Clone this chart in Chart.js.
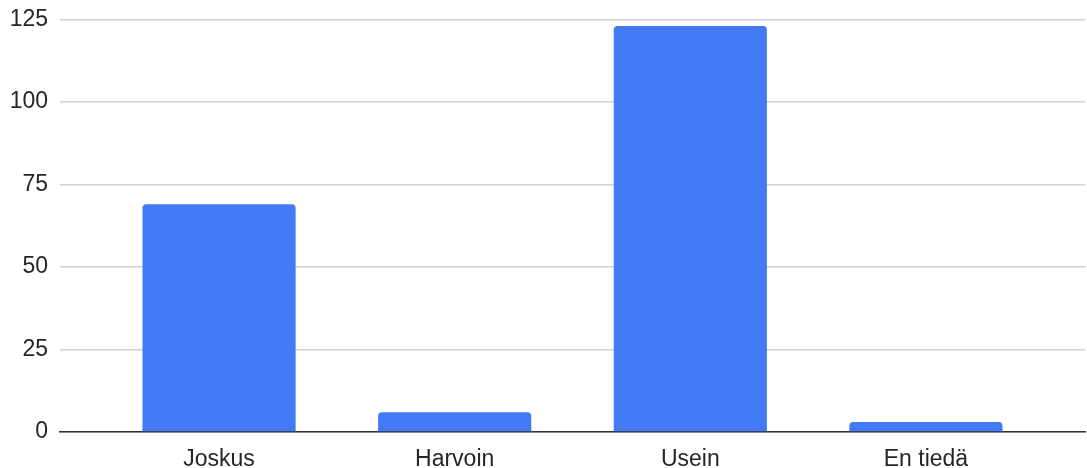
<!DOCTYPE html>
<html lang="fi">
<head>
  <meta charset="UTF-8" />
  <title>Vastaukset</title>
  <script src="https://cdn.jsdelivr.net/npm/chart.js"></script>
  <style>
    html, body { margin: 0; padding: 0; background: #fff; }
    #wrap { width: 1087px; height: 468px; position: relative; }
  </style>
</head>
<body>
  <div id="wrap"><canvas id="chart"></canvas></div>

  <script>
    const categories = ["Joskus", "Harvoin", "Usein", "En tiedä"];
    const counts = [69, 6, 123, 3];
    const yTicks = [0, 25, 50, 75, 100, 125];

    // bars sit on a linear x scale so the grid can run wider than the bars
    const points = counts.map((v, i) => ({ x: i, y: v }));

    new Chart(document.getElementById("chart"), {
      type: "bar",
      data: {
        datasets: [{
          data: points,
          backgroundColor: "#427af5",
          borderRadius: { topLeft: 4, topRight: 4, bottomLeft: 0, bottomRight: 0 },
          borderSkipped: "start",
          barPercentage: 1,
          categoryPercentage: 0.65
        }]
      },
      options: {
        responsive: true,
        maintainAspectRatio: false,
        animation: false,
        layout: { padding: { left: 0, right: 2, top: 0, bottom: 0 } },
        plugins: {
          legend: { display: false },
          tooltip: { enabled: false }
        },
        scales: {
          x: {
            type: "linear",
            offset: false,
            min: -0.675,
            max: categories.length - 1 + 0.675,
            afterBuildTicks: scale => {
              scale.ticks = categories.map((c, i) => ({ value: i }));
            },
            afterFit: scale => { scale.height = 36; },
            grid: { display: false, offset: false },
            border: { display: true, color: "#333333", width: 1.5 },
            ticks: {
              padding: 6,
              color: "#262626",
              font: { family: "Liberation Sans, Arial, sans-serif", size: 23 },
              callback: value => categories[value] ?? ""
            }
          },
          y: {
            min: 0,
            max: 125,
            afterBuildTicks: scale => {
              scale.ticks = yTicks.map(v => ({ value: v }));
            },
            afterFit: scale => {
              scale.width = 60;
              scale.paddingTop = 19.5;
              scale.paddingBottom = 0;
            },
            grid: { color: "#d0d0d0", lineWidth: 1.5, drawTicks: false },
            border: { display: false },
            ticks: {
              padding: 12,
              color: "#262626",
              font: { family: "Liberation Sans, Arial, sans-serif", size: 23 }
            }
          }
        }
      }
    });
  </script>
</body>
</html>
